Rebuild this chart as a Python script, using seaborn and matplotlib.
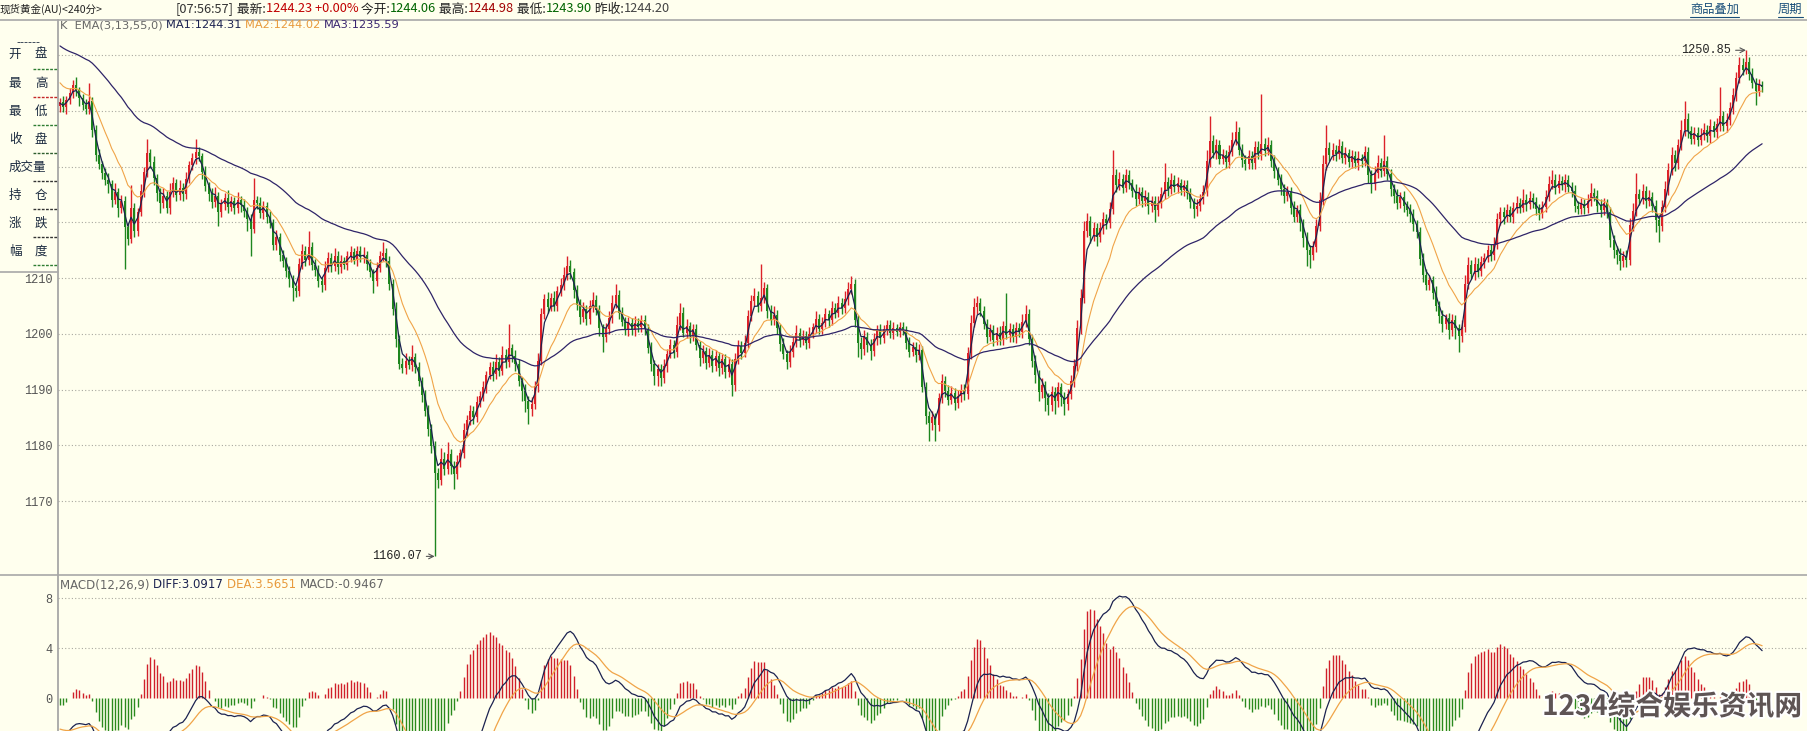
import numpy as np
import pandas as pd
import matplotlib
matplotlib.use("Agg")
import matplotlib.pyplot as plt
import matplotlib.patheffects as pe
from matplotlib.lines import Line2D
import seaborn as sns

# ------------------------------------------------------------------ data
close = [
    1241.5, 1240.6, 1242.0, 1243.1, 1244.6, 1243.8, 1242.2, 1241.0, 1240.4, 1241.8,  # 0
    1236.5, 1232.0, 1230.4, 1228.8, 1227.5, 1226.8, 1224.0, 1225.5, 1222.6, 1223.8,  # 10
    1219.2, 1217.0, 1222.5, 1218.5, 1221.8, 1225.6, 1229.0, 1232.4, 1230.8, 1228.0,  # 20
    1225.2, 1223.5, 1224.8, 1222.6, 1225.4, 1227.0, 1224.9, 1226.1, 1225.0, 1227.8,  # 30
    1230.2, 1231.5, 1232.6, 1231.8, 1229.0, 1226.5, 1225.0, 1223.6, 1224.8, 1221.9,  # 40
    1223.2, 1224.4, 1222.8, 1223.9, 1222.5, 1224.0, 1223.1, 1222.0, 1220.6, 1218.8,  # 50
    1224.0, 1223.4, 1221.6, 1222.9, 1221.0, 1219.8, 1216.0, 1217.4, 1214.2, 1213.0,  # 60
    1211.2, 1209.8, 1208.2, 1207.6, 1212.5, 1214.8, 1213.2, 1215.6, 1212.4, 1211.5,  # 70
    1209.4, 1208.8, 1211.8, 1213.6, 1212.2, 1214.0, 1211.9, 1213.1, 1212.4, 1213.9,  # 80
    1214.6, 1213.3, 1214.8, 1213.7, 1214.2, 1212.6, 1211.0, 1209.5, 1211.8, 1213.9,  # 90
    1214.5, 1213.0, 1209.0, 1204.5, 1199.0, 1194.6, 1193.8, 1195.2, 1194.4, 1195.8,  # 100
    1194.0, 1191.5, 1189.0, 1186.2, 1183.0, 1179.8, 1175.0, 1173.8, 1177.6, 1175.8,  # 110
    1178.4, 1176.2, 1174.9, 1177.0, 1178.6, 1182.8, 1184.6, 1186.2, 1185.0, 1187.8,  # 120
    1188.9, 1190.4, 1192.6, 1194.0, 1192.8, 1195.0, 1193.4, 1196.2, 1195.0, 1197.4,  # 130
    1196.0, 1194.6, 1191.5, 1189.8, 1188.0, 1186.5, 1187.4, 1190.6, 1195.2, 1203.5,  # 140
    1206.2, 1204.8, 1206.5, 1205.0, 1207.6, 1208.8, 1210.5, 1212.2, 1211.0, 1207.8,  # 150
    1205.2, 1203.0, 1204.4, 1202.6, 1204.9, 1206.0, 1204.2, 1201.0, 1199.5, 1200.8,  # 160
    1202.9, 1205.5, 1207.0, 1203.8, 1202.2, 1200.8, 1201.9, 1200.6, 1202.0, 1201.2,  # 170
    1202.4, 1200.9, 1197.5, 1194.6, 1192.4, 1193.6, 1192.0, 1194.2, 1196.4, 1197.9,  # 180
    1196.8, 1201.6, 1203.8, 1200.2, 1201.4, 1199.6, 1200.8, 1198.0, 1195.6, 1196.9,  # 190
    1194.8, 1196.2, 1194.3, 1196.0, 1193.8, 1195.4, 1193.2, 1194.6, 1190.8, 1195.5,  # 200
    1197.8, 1196.6, 1198.4, 1203.2, 1205.8, 1206.8, 1205.0, 1206.4, 1208.2, 1204.0,  # 210
    1202.5, 1203.4, 1201.0, 1198.2, 1196.4, 1195.0, 1196.8, 1198.5, 1200.2, 1198.8,  # 220
    1199.6, 1198.4, 1200.0, 1201.2, 1202.6, 1200.9, 1202.0, 1203.5, 1202.4, 1204.6,  # 230
    1203.8, 1205.5, 1204.6, 1206.2, 1208.0, 1209.0, 1202.5, 1198.4, 1197.2, 1199.5,  # 240
    1198.0, 1196.9, 1199.0, 1200.6, 1199.2, 1200.8, 1201.5, 1200.2, 1201.0, 1200.4,  # 250
    1201.2, 1200.6, 1198.4, 1196.8, 1197.6, 1196.2, 1197.0, 1190.5, 1185.2, 1184.0,  # 260
    1185.0, 1183.6, 1188.4, 1191.6, 1189.8, 1188.2, 1189.4, 1187.6, 1188.8, 1190.0,  # 270
    1189.2, 1196.5, 1202.0, 1204.8, 1205.6, 1204.0, 1201.8, 1199.5, 1200.6, 1198.8,  # 280
    1200.2, 1199.0, 1201.4, 1199.8, 1200.9, 1199.4, 1201.0, 1200.3, 1202.2, 1203.5,  # 290
    1199.0, 1195.2, 1192.6, 1189.5, 1190.8, 1188.4, 1187.2, 1189.6, 1188.0, 1190.4,  # 300
    1188.6, 1187.4, 1189.2, 1191.5, 1194.2, 1201.0, 1206.5, 1218.5, 1220.2, 1217.6,  # 310
    1218.9, 1217.4, 1219.0, 1220.6, 1219.8, 1222.4, 1228.5, 1226.6, 1227.8, 1226.2,  # 320
    1228.4, 1227.0, 1225.6, 1224.2, 1225.4, 1223.8, 1224.6, 1222.9, 1223.8, 1222.2,  # 330
    1223.5, 1225.0, 1227.2, 1225.9, 1227.6, 1226.4, 1227.0, 1225.8, 1226.6, 1225.2,  # 340
    1223.6, 1222.4, 1223.0, 1224.2, 1225.5, 1231.0, 1234.6, 1232.5, 1233.8, 1231.4,  # 350
    1232.0, 1230.8, 1232.6, 1234.8, 1236.2, 1233.0, 1231.2, 1230.4, 1231.8, 1230.6,  # 360
    1233.5, 1232.2, 1234.0, 1232.8, 1233.9, 1231.0, 1229.2, 1227.6, 1226.0, 1224.8,  # 370
    1225.5, 1222.6, 1221.0, 1222.2, 1219.8, 1217.2, 1215.0, 1214.2, 1215.6, 1219.4,  # 380
    1224.0, 1230.5, 1233.4, 1232.0, 1233.0, 1232.2, 1233.6, 1231.6, 1232.4, 1230.8,  # 390
    1231.9, 1230.6, 1231.5, 1230.9, 1232.6, 1228.4, 1226.8, 1228.9, 1230.6, 1229.2,  # 400
    1231.0, 1228.6, 1226.0, 1224.8, 1223.4, 1224.6, 1223.0, 1222.2, 1221.4, 1219.6,  # 410
    1218.2, 1213.5, 1210.6, 1208.8, 1209.6, 1207.4, 1205.0, 1203.2, 1201.8, 1202.8,  # 420
    1200.6, 1202.4, 1201.0, 1199.6, 1201.2, 1209.0, 1212.4, 1210.8, 1212.6, 1211.2,  # 430
    1212.8, 1213.6, 1215.0, 1214.2, 1216.0, 1220.5, 1221.8, 1220.9, 1222.2, 1221.0,  # 440
    1222.6, 1223.4, 1222.6, 1224.0, 1223.2, 1224.4, 1223.6, 1222.4, 1221.6, 1222.8,  # 450
    1224.6, 1226.8, 1227.6, 1226.2, 1227.4, 1226.6, 1227.5, 1226.4, 1225.6, 1223.0,  # 460
    1222.4, 1223.2, 1222.6, 1223.8, 1225.2, 1224.8, 1223.0, 1222.2, 1223.4, 1221.8,  # 470
    1216.8, 1215.0, 1214.2, 1213.0, 1214.0, 1213.2, 1219.5, 1222.0, 1225.0, 1224.2,  # 480
    1225.6, 1223.8, 1224.6, 1223.0, 1220.4, 1219.4, 1222.8, 1226.0, 1229.4, 1232.0,  # 490
    1230.6, 1233.8, 1236.5, 1238.6, 1236.4, 1235.0, 1236.0, 1234.8, 1235.6, 1236.6,  # 500
    1235.4, 1237.2, 1236.2, 1237.6, 1239.0, 1237.2, 1238.4, 1240.5, 1242.8, 1245.8,  # 510
    1248.2, 1247.4, 1248.8, 1246.6, 1245.0, 1243.6, 1244.6, 1244.23,                 # 520
]

wick_up = [
    0.8, 1.2, 0.6, 1.0, 0.9, 1.4, 0.5, 0.8, 1.1, 3.2,
    0.7, 0.9, 1.2, 0.6, 1.0, 1.3, 0.8, 1.5, 0.7, 1.1,
    0.9, 0.6, 4.2, 1.0, 0.8, 1.2, 0.9, 2.6, 0.7, 1.0,
    0.6, 0.9, 1.3, 0.8, 1.6, 1.1, 0.7, 1.4, 0.9, 1.2,
    0.8, 1.0, 2.4, 0.9, 0.6, 1.1, 0.8, 1.2, 1.5, 0.7,
    1.0, 0.8, 1.3, 0.9, 0.6, 1.4, 0.8, 1.0, 0.7, 0.9,
    4.0, 0.8, 1.1, 0.9, 0.7, 1.0, 0.8, 1.2, 0.6, 0.9,
    0.7, 1.0, 0.8, 0.6, 1.1, 1.3, 0.9, 2.8, 0.8, 1.0,
    0.9, 0.7, 1.2, 1.0, 0.8, 1.4, 0.9, 1.1, 0.7, 1.0,
    1.2, 0.8, 1.0, 0.9, 1.3, 0.7, 0.8, 0.6, 1.1, 1.0,
    2.0, 0.8, 1.0, 0.9, 1.2, 0.8, 1.1, 1.4, 0.9, 2.2,
    0.8, 1.0, 0.7, 0.9, 1.1, 0.8, 1.0, 0.9, 1.9, 1.2,
    2.2, 0.9, 1.0, 1.3, 0.8, 1.2, 0.9, 1.1, 0.8, 1.0,
    0.9, 1.2, 0.8, 1.0, 1.1, 1.4, 0.9, 1.6, 1.0, 4.3,
    0.8, 1.0, 0.9, 0.7, 1.1, 0.8, 1.2, 1.0, 1.4, 1.2,
    1.0, 1.3, 0.9, 1.1, 1.0, 1.2, 1.4, 1.8, 1.0, 0.8,
    0.9, 1.0, 1.3, 0.8, 1.2, 1.5, 0.9, 1.0, 0.8, 1.1,
    1.2, 1.4, 2.0, 0.9, 1.0, 0.8, 1.1, 0.9, 1.2, 0.8,
    1.0, 0.9, 0.8, 1.1, 0.7, 1.0, 0.9, 1.2, 0.8, 1.1,
    0.9, 1.6, 1.8, 1.0, 1.2, 0.8, 1.0, 0.9, 0.7, 1.1,
    0.8, 1.2, 0.9, 1.1, 0.8, 1.0, 0.9, 1.2, 0.8, 1.0,
    1.1, 0.9, 1.3, 1.0, 1.2, 1.4, 0.9, 6.1, 1.0, 0.8,
    1.2, 1.5, 0.9, 0.8, 1.0, 0.7, 1.1, 0.9, 1.3, 0.8,
    1.0, 0.9, 1.2, 0.8, 1.4, 0.9, 1.0, 1.1, 0.8, 1.3,
    0.9, 1.2, 1.0, 1.4, 1.2, 1.4, 0.8, 0.9, 1.0, 1.2,
    0.8, 1.0, 1.1, 0.9, 1.2, 0.8, 1.0, 0.9, 1.1, 0.8,
    1.0, 0.9, 0.8, 1.1, 0.9, 1.0, 1.2, 0.8, 0.9, 1.0,
    1.1, 0.8, 1.0, 1.2, 0.9, 1.0, 1.3, 0.8, 1.1, 0.9,
    1.0, 1.2, 1.4, 1.6, 1.2, 0.9, 1.0, 0.8, 1.1, 0.9,
    1.0, 1.2, 0.9, 6.0, 1.0, 0.8, 1.1, 0.9, 1.4, 1.6,
    0.9, 0.8, 1.0, 0.9, 1.2, 0.8, 1.0, 1.1, 0.9, 1.0,
    0.8, 1.0, 0.9, 1.1, 1.2, 1.4, 1.6, 1.8, 1.4, 1.0,
    1.2, 0.9, 1.0, 1.3, 0.8, 1.2, 4.5, 1.0, 1.2, 0.9,
    1.1, 1.0, 0.8, 1.2, 0.9, 1.0, 1.1, 0.8, 1.0, 0.9,
    1.2, 1.4, 3.5, 1.0, 1.2, 0.9, 1.1, 0.8, 1.0, 0.9,
    1.0, 0.8, 1.1, 0.9, 1.2, 2.0, 4.4, 1.0, 1.2, 0.9,
    1.1, 1.0, 1.3, 1.4, 1.9, 0.9, 1.0, 0.8, 1.2, 0.9,
    1.1, 1.0, 9.0, 1.2, 1.4, 0.9, 1.0, 0.8, 1.1, 0.9,
    1.0, 0.8, 1.2, 0.9, 1.0, 0.8, 1.1, 0.9, 1.0, 1.2,
    1.4, 1.6, 4.0, 1.0, 1.2, 0.9, 1.3, 1.0, 1.1, 0.8,
    1.0, 0.9, 1.2, 0.8, 1.1, 0.9, 1.0, 1.2, 1.4, 1.0,
    4.7, 0.9, 1.0, 0.8, 1.1, 0.9, 1.0, 0.8, 1.0, 0.9,
    0.8, 1.0, 0.9, 1.1, 1.0, 0.8, 1.2, 0.9, 1.0, 0.8,
    1.0, 1.1, 0.9, 0.8, 1.2, 1.5, 1.3, 0.9, 1.1, 1.0,
    1.2, 0.9, 1.0, 1.1, 1.3, 1.2, 1.0, 0.9, 1.1, 0.8,
    1.0, 1.4, 0.9, 2.0, 1.0, 1.2, 0.9, 1.0, 0.8, 1.1,
    1.2, 1.5, 1.8, 1.0, 1.2, 0.9, 1.1, 1.0, 0.8, 1.0,
    0.9, 1.1, 1.0, 1.2, 1.9, 1.0, 0.9, 1.1, 1.0, 0.8,
    0.9, 1.0, 0.8, 1.1, 0.9, 1.0, 1.2, 1.4, 3.8, 1.0,
    1.2, 0.9, 1.1, 0.8, 1.0, 0.9, 1.2, 1.4, 1.3, 1.5,
    1.0, 1.2, 1.8, 3.2, 1.0, 0.9, 1.1, 1.0, 1.3, 1.2,
    0.9, 1.4, 1.0, 1.1, 5.3, 0.9, 1.2, 1.0, 1.3, 1.2,
    1.5, 1.2, 2.05, 0.8, 1.0, 0.9, 1.1, 0.7,
]

wick_dn = [
    1.0, 0.8, 1.2, 0.7, 0.9, 1.1, 1.3, 0.8, 1.0, 0.9,
    1.2, 1.0, 0.8, 1.1, 0.9, 1.5, 1.2, 0.8, 1.6, 1.0,
    7.6, 1.0, 0.8, 1.2, 0.9, 0.7, 1.0, 0.8, 1.1, 1.4,
    1.3, 1.8, 0.9, 1.0, 1.2, 0.8, 1.0, 0.9, 1.1, 0.8,
    0.7, 0.9, 1.0, 0.8, 1.2, 0.9, 1.1, 1.0, 0.8, 2.6,
    0.9, 1.0, 1.2, 0.8, 1.1, 0.9, 1.3, 1.0, 2.2, 4.8,
    0.8, 1.0, 0.9, 1.1, 1.2, 0.8, 1.0, 0.9, 1.2, 1.0,
    1.1, 1.4, 2.4, 1.0, 0.8, 0.9, 1.1, 0.8, 1.0, 1.2,
    1.0, 1.3, 0.9, 0.8, 1.1, 0.9, 1.2, 1.0, 0.8, 0.9,
    1.0, 0.8, 1.1, 0.9, 1.0, 1.2, 0.9, 2.2, 1.0, 0.8,
    0.9, 1.0, 1.2, 1.1, 1.3, 1.0, 0.9, 1.1, 0.8, 1.0,
    1.1, 0.9, 1.2, 1.0, 1.4, 1.2, 14.93, 1.5, 1.0, 1.2,
    0.9, 1.4, 2.8, 1.0, 0.9, 0.8, 1.1, 0.9, 1.2, 0.8,
    1.0, 0.9, 1.1, 0.8, 1.2, 0.9, 1.0, 0.8, 1.1, 0.9,
    1.0, 1.2, 0.9, 1.8, 2.0, 2.6, 1.2, 0.9, 1.0, 0.8,
    0.9, 1.1, 0.8, 1.0, 0.9, 0.8, 1.0, 0.9, 1.1, 1.3,
    1.0, 1.2, 0.9, 1.1, 0.8, 1.0, 0.9, 1.4, 2.8, 1.0,
    0.8, 1.0, 0.9, 1.1, 0.8, 1.0, 1.2, 0.9, 1.0, 0.8,
    0.9, 1.1, 1.0, 1.2, 1.6, 1.8, 1.4, 0.9, 1.0, 0.8,
    1.1, 0.9, 1.0, 0.8, 1.0, 1.2, 0.9, 1.0, 1.3, 0.9,
    1.2, 0.8, 1.1, 0.9, 1.3, 1.0, 1.2, 0.9, 2.0, 1.0,
    0.9, 1.1, 0.8, 1.0, 0.9, 0.8, 1.1, 1.0, 0.9, 1.2,
    1.0, 0.9, 1.1, 1.3, 1.0, 1.4, 0.9, 1.0, 0.8, 1.1,
    0.9, 1.2, 1.0, 0.8, 1.1, 0.9, 1.0, 0.8, 1.2, 0.9,
    1.0, 0.8, 1.1, 0.9, 1.0, 0.8, 1.2, 2.5, 1.8, 1.0,
    1.2, 1.6, 0.9, 1.0, 1.1, 0.8, 1.0, 0.9, 1.2, 0.8,
    1.0, 0.9, 1.1, 1.0, 0.8, 1.2, 0.9, 1.0, 1.4, 3.2,
    1.2, 2.9, 1.0, 0.9, 1.1, 1.0, 0.8, 1.2, 0.9, 1.0,
    1.1, 0.9, 1.0, 0.8, 1.2, 0.9, 1.0, 1.1, 0.8, 1.0,
    0.9, 1.1, 1.0, 0.8, 1.2, 0.9, 1.0, 0.8, 1.1, 0.9,
    1.0, 1.2, 1.4, 1.6, 1.0, 2.2, 1.8, 1.0, 2.4, 1.2,
    1.5, 2.0, 1.1, 0.9, 1.0, 0.8, 1.0, 0.9, 1.2, 1.4,
    1.0, 1.6, 0.9, 1.1, 1.0, 0.8, 1.0, 1.2, 0.9, 1.0,
    0.8, 1.1, 1.0, 1.2, 0.9, 1.0, 0.8, 1.5, 1.0, 2.2,
    1.0, 0.9, 0.8, 1.1, 0.9, 1.0, 1.2, 0.9, 1.0, 1.1,
    1.0, 1.6, 1.2, 0.9, 1.0, 0.8, 1.0, 0.9, 1.1, 1.0,
    0.9, 1.1, 1.0, 0.8, 1.0, 0.9, 1.2, 1.0, 0.8, 1.1,
    1.0, 0.9, 1.1, 1.0, 0.8, 1.0, 1.2, 0.9, 1.1, 1.3,
    1.0, 1.2, 1.0, 0.9, 1.4, 1.6, 2.8, 2.4, 1.0, 0.9,
    1.0, 0.9, 1.1, 1.0, 0.8, 1.2, 0.9, 1.0, 1.1, 0.9,
    1.0, 0.9, 1.2, 1.0, 0.8, 1.4, 1.6, 1.0, 0.9, 1.1,
    0.9, 1.0, 1.2, 1.4, 1.1, 0.9, 1.2, 1.0, 1.3, 1.1,
    1.0, 1.2, 1.3, 1.0, 0.9, 1.1, 1.0, 1.2, 1.4, 0.9,
    1.6, 1.0, 2.0, 2.8, 1.0, 0.8, 1.0, 0.9, 1.1, 1.0,
    0.9, 1.0, 0.8, 1.1, 0.9, 0.8, 1.0, 1.2, 0.9, 1.0,
    1.1, 0.9, 1.0, 0.8, 1.2, 0.9, 1.0, 1.1, 1.2, 0.9,
    1.0, 0.8, 0.9, 1.1, 1.0, 0.9, 1.2, 1.0, 1.1, 1.2,
    1.0, 0.9, 1.1, 1.0, 0.8, 1.0, 1.2, 1.3, 0.9, 1.1,
    1.2, 1.4, 1.6, 1.5, 1.0, 1.2, 0.9, 1.0, 0.8, 1.1,
    1.0, 1.2, 0.9, 1.1, 2.2, 2.9, 1.0, 0.9, 1.1, 1.0,
    1.4, 1.0, 0.9, 1.1, 1.2, 1.0, 0.9, 1.1, 1.0, 0.8,
    1.0, 1.1, 0.9, 1.0, 1.2, 0.8, 1.0, 0.9, 1.1, 1.0,
    0.9, 1.0, 0.8, 1.1, 1.0, 2.6, 1.0, 0.9,
]

first_open = 1240.8                       # open of the first visible bar
ema_spans = [3, 13, 55]                   # EMA(3,13,55,0)
ema_seeds = [1241.2, 1245.6, 1252.0]      # indicator levels at the left edge
macd_fast, macd_slow, macd_signal = 12, 26, 9
macd_fast_seed, macd_slow_seed, dea_seed = 1244.6, 1247.3, -2.4

price_grid = [1170, 1180, 1190, 1200, 1210, 1220, 1230, 1240, 1250]
price_tick_labels = ["1170", "1180", "1190", "1200", "1210", "", "", "", ""]
macd_ticks = [0, 4, 8]
macd_tick_labels = ["0", "4", "8"]
macd_grid = [4, 8]

header_title = "现货黄金(AU)<240分>"
header_quote = [("[07:56:57]", "#333333"), (" 最新:", "#222222"), ("1244.23 +0.00%", "#C00000"),
                (" 今开:", "#222222"), ("1244.06", "#006400"), (" 最高:", "#222222"),
                ("1244.98", "#A00000"), (" 最低:", "#222222"), ("1243.90", "#006400"),
                (" 昨收:", "#222222"), ("1244.20", "#444444")]
header_links = ["商品叠加", "周期"]
ma_title = [("K  EMA(3,13,55,0) ", "#666666"), ("MA1:1244.31 ", "#1B2250"),
            ("MA2:1244.02 ", "#E89A3C"), ("MA3:1235.59", "#3A2670")]
macd_title = [("MACD(12,26,9) ", "#666666"), ("DIFF:3.0917 ", "#1B2250"),
              ("DEA:3.5651 ", "#E89A3C"), ("MACD:-0.9467", "#666666")]
info_rows = [("开", "盘"), ("最", "高"), ("最", "低"), ("收", "盘"), ("成交量", None),
             ("持", "仓"), ("涨", "跌"), ("幅", "度")]
info_dash_colors = ["#2E7D32", "#C62828", "#2E7D32", "#2E5E2E", "#333333", "#333333", "#333333", "#2E7D32"]
watermark = "1234综合娱乐资讯网"

# ------------------------------------------------------------------ derived
c = pd.Series(close, dtype=float)
o = pd.Series([first_open] + close[:-1], dtype=float)
hi = np.maximum(o, c).to_numpy() + np.asarray(wick_up)
lo = np.minimum(o, c).to_numpy() - np.asarray(wick_dn)
N = len(c)
xs = np.arange(N)


def ema(series, span, seed):
    s = pd.concat([pd.Series([seed], dtype=float), series], ignore_index=True)
    return s.ewm(span=span, adjust=False).mean().iloc[1:].to_numpy()


emas = [ema(c, s, sd) for s, sd in zip(ema_spans, ema_seeds)]
diff = ema(c, macd_fast, macd_fast_seed) - ema(c, macd_slow, macd_slow_seed)
dea = ema(pd.Series(diff), macd_signal, dea_seed)
hist = 2 * (diff - dea)

# ------------------------------------------------------------------ style
BG = "#FFFFEE"
RED = "#DC2229"
GREEN = "#1E861E"
GRID = "#A9A9A0"
sns.set_theme(style="white")
plt.rcParams["font.family"] = ["DejaVu Sans", "Noto Sans CJK SC"]
CJK = ["Noto Sans CJK SC", "DejaVu Sans"]
MONO = ["Liberation Mono", "DejaVu Sans Mono"]

W, H = 1807, 731
fig = plt.figure(figsize=(W / 100, H / 100), dpi=100, facecolor=BG)


def fx(px):
    return px / W


def fy(py):
    return 1 - py / H


ax = fig.add_axes([fx(58), fy(575), fx(W - 58), (575 - 20) / H], facecolor=BG)
ax2 = fig.add_axes([fx(58), 0, fx(W - 58), fy(575)], facecolor=BG)

# --- main panel: candles
colors = np.where(c.to_numpy() >= o.to_numpy(), RED, GREEN)
ax.vlines(xs, lo, hi, colors=colors, linewidth=1.0, zorder=2)
body = np.maximum(np.abs(c - o).to_numpy(), 0.15)
ax.bar(xs, body, bottom=np.minimum(o, c).to_numpy(), width=0.62, color=colors,
       linewidth=0, zorder=3)

ema_colors = ["#1B2250", "#F0A448", "#2E2468"]
ema_widths = [0.9, 0.8, 0.9]
for e, col, lw in zip(emas, ema_colors, ema_widths):
    sns.lineplot(x=xs, y=e, ax=ax, color=col, linewidth=lw, estimator=None, zorder=4)

for g in price_grid:
    ax.axhline(g, color=GRID, linewidth=0.8, linestyle=(0, (1, 2)), zorder=1)

ax.set_xlim(-0.62, 540.9)
ax.set_ylim(1156.73, 1256.28)
ax.set_xticks([])
ax.set_yticks(price_grid)
ax.set_yticklabels(price_tick_labels)
ax.tick_params(axis="y", length=0, pad=4, labelsize=8.6, labelcolor="#555555")
for lab in ax.get_yticklabels():
    lab.set_fontfamily(MONO)
for side in ["top", "right", "bottom"]:
    ax.spines[side].set_visible(False)
ax.spines["left"].set_color("#A0A0A0")
ax.spines["left"].set_linewidth(1.2)
ax.set_xlabel("")
ax.set_ylabel("")

# extreme labels
imax = int(np.argmax(hi))
imin = int(np.argmin(lo))
arrow = dict(arrowstyle="->", color="#555555", lw=0.8, shrinkA=1, shrinkB=0)
ax.annotate(f"{hi[imax]:.2f}", xy=(imax, hi[imax]), xytext=(-15, 0), textcoords="offset pixels",
            ha="right", va="center", fontsize=8.6, family=MONO, color="#222222", arrowprops=arrow)
ax.annotate(f"{lo[imin]:.2f}", xy=(imin, lo[imin]), xytext=(-13, 0), textcoords="offset pixels",
            ha="right", va="center", fontsize=8.6, family=MONO, color="#222222", arrowprops=arrow)

# --- MACD panel
hcol = np.where(hist >= 0, "#D0202A", "#2A8A1E")
ax2.vlines(xs, 0, hist, colors=hcol, linewidth=1.0, zorder=2)
sns.lineplot(x=xs, y=diff, ax=ax2, color="#1B2250", linewidth=0.9, estimator=None, zorder=4)
sns.lineplot(x=xs, y=dea, ax=ax2, color="#F0A448", linewidth=0.9, estimator=None, zorder=4)
for g in macd_grid:
    ax2.axhline(g, color=GRID, linewidth=0.8, linestyle=(0, (1, 2)), zorder=1)
ax2.set_xlim(-0.62, 540.9)
ax2.set_ylim(-2.62, 9.86)
ax2.set_xticks([])
ax2.set_yticks(macd_ticks)
ax2.set_yticklabels(macd_tick_labels)
ax2.tick_params(axis="y", length=0, pad=4, labelsize=8.6, labelcolor="#555555")
for lab in ax2.get_yticklabels():
    lab.set_fontfamily(MONO)
for side in ["top", "right", "bottom"]:
    ax2.spines[side].set_visible(False)
ax2.spines["left"].set_color("#A0A0A0")
ax2.spines["left"].set_linewidth(1.2)
ax2.set_xlabel("")
ax2.set_ylabel("")

# --- frame lines
for (x0, x1, yy) in [(0, W, 20), (0, W, 575), (0, 58, 272)]:
    fig.add_artist(Line2D([fx(x0), fx(x1)], [fy(yy), fy(yy)], transform=fig.transFigure,
                          color="#A8A8A8", linewidth=1.2))

renderer = fig.canvas.get_renderer()


def seg_text(x_px, y_px, parts, size, family):
    cur = x_px
    for s, col in parts:
        t = fig.text(fx(cur), fy(y_px), s, color=col, fontsize=size, family=family,
                     ha="left", va="center")
        cur = t.get_window_extent(renderer).x1


# header
fig.text(fx(0), fy(9), header_title, fontsize=7.6, family=CJK, color="#222222", ha="left", va="center")
seg_text(176, 9, header_quote, 9.2, CJK)
for txt, xp in zip(header_links, [1690, 1778]):
    t = fig.text(fx(xp), fy(9), txt, fontsize=8.8, family=CJK, color="#1A4F7A", ha="left", va="center")
    bb = t.get_window_extent(renderer)
    fig.add_artist(Line2D([fx(bb.x0), fx(bb.x1)], [fy(17), fy(17)], transform=fig.transFigure,
                          color="#1A4F7A", linewidth=0.8))

# panel titles
seg_text(60, 25, ma_title, 8.2, ["DejaVu Sans"])
seg_text(60, 585, macd_title, 8.5, ["DejaVu Sans"])

# info panel on the left
fig.text(fx(28), fy(42), "------", fontsize=8, family=["DejaVu Sans"], color="#1C2B40",
         ha="center", va="center")
row_y = [54, 83, 111, 139, 167, 195, 223, 251]
dash_y = [69, 97, 125, 153, 181, 209, 237, 265]
for (a, b), yy in zip(info_rows, row_y):
    if b is None:
        fig.text(fx(27), fy(yy), a, fontsize=9, family=CJK, color="#1C2B40", ha="center", va="center")
    else:
        fig.text(fx(15), fy(yy), a, fontsize=9, family=CJK, color="#1C2B40", ha="center", va="center")
        fig.text(fx(41), fy(yy), b, fontsize=9, family=CJK, color="#1C2B40", ha="center", va="center")
for yy, col in zip(dash_y, info_dash_colors):
    fig.add_artist(Line2D([fx(33), fx(57)], [fy(yy), fy(yy)], transform=fig.transFigure,
                          color=col, linewidth=1.0, linestyle=(0, (2, 1))))

# watermark
fig.text(fx(1802), fy(707), watermark, fontsize=20, fontweight="bold", family=CJK,
         color="#5E5454", ha="right", va="center",
         path_effects=[pe.withStroke(linewidth=3, foreground="white")])

fig.savefig("out.png", dpi=100, facecolor=BG)
